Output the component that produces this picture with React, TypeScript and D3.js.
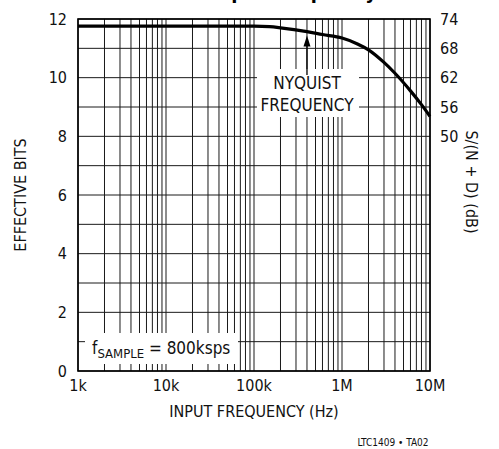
import React from 'react';
import * as d3 from 'd3';

// curve: input frequency (Hz) vs effective bits
const freqs = [1e3, 1e4, 1e5, 1.5e5, 2e5, 4e5, 6e5, 1e6, 1.5e6, 2e6, 3e6, 4e6, 6e6, 8e6, 1e7];
const bits = [11.76, 11.76, 11.76, 11.74, 11.7, 11.57, 11.47, 11.35, 11.15, 10.95, 10.52, 10.15, 9.55, 9.08, 8.68];

const leftTicks = [0, 2, 4, 6, 8, 10, 12];
const rightTicks = [12, 11, 10, 9, 8];
const rightLabels = ['74', '68', '62', '56', '50'];
const xTicks = [1e3, 1e4, 1e5, 1e6, 1e7];
const xLabels = ['1k', '10k', '100k', '1M', '10M'];

const FONT = "'Liberation Sans Narrow', 'DejaVu Sans Condensed', 'Liberation Sans', Arial, sans-serif";

export default function App() {
  const W = 499, H = 449;
  const m = { left: 78, right: 430, top: 19, bottom: 371 };

  const x = d3.scaleLog().domain([1e3, 1e7]).range([m.left, m.right]);
  const y = d3.scaleLinear().domain([0, 12]).range([m.bottom, m.top]);

  // minor + major vertical grid
  const vGrid: number[] = [];
  for (let dec = 1e3; dec < 1e7; dec *= 10) {
    for (let k = 1; k < 10; k++) vGrid.push(dec * k);
  }
  vGrid.push(1e7);
  const hGrid = d3.range(0, 13);

  const line = d3.line<number>()
    .x((_, i) => x(freqs[i]))
    .y(d => y(d))
    .curve(d3.curveMonotoneX);

  // white boxes that knock the grid out behind the notes
  const nyq = { x: 257, y: 69, w: 102, h: 48 };
  const fs = { x: 85, y: 333, w: 153, h: 31 };

  return (
    <svg width={W} height={H} style={{ position: 'absolute', left: 0, top: 0, background: '#fff' }}
      fontFamily={FONT}>
      <text x={280} y={-1} textAnchor="middle" fontSize={20} fontWeight="bold" fill="#000">
        vs Input Frequency
      </text>

      <g stroke="#1a1a1a" strokeWidth={1}>
        {vGrid.map((f, i) => (
          <line key={'v' + i} x1={x(f)} x2={x(f)} y1={m.top} y2={m.bottom} />
        ))}
        {hGrid.map(v => (
          <line key={'h' + v} x1={m.left} x2={m.right} y1={y(v)} y2={y(v)} />
        ))}
      </g>

      <rect x={nyq.x} y={nyq.y} width={nyq.w} height={nyq.h} fill="#fff" />
      <rect x={fs.x} y={fs.y} width={fs.w} height={fs.h} fill="#fff" />

      <rect x={m.left} y={m.top} width={m.right - m.left} height={m.bottom - m.top}
        fill="none" stroke="#000" strokeWidth={1.6} />

      <path d={line(bits) || ''} fill="none" stroke="#000" strokeWidth={3.2} strokeLinejoin="round" />

      {/* Nyquist arrow at fs/2 = 400k */}
      <line x1={x(4e5)} x2={x(4e5)} y1={y(11.2)} y2={nyq.y + 6} stroke="#000" strokeWidth={1.3} />
      <path d={`M${x(4e5)},${y(11.57) + 4} l-3.5,11 l7,0 z`} fill="#000" />
      <g fontSize={17} textAnchor="middle" fill="#111">
        <text x={x(4e5)} y={89}>NYQUIST</text>
        <text x={x(4e5)} y={111}>FREQUENCY</text>
      </g>

      <text x={92} y={354} fontSize={17} fill="#111">
        f<tspan fontSize={13} dy={4}>SAMPLE</tspan><tspan dy={-4}> = 800ksps</tspan>
      </text>

      <g fontSize={16} fill="#111">
        {leftTicks.map(v => (
          <text key={'l' + v} x={67} y={y(v)} dy="0.36em" textAnchor="end">{v}</text>
        ))}
        {rightTicks.map((v, i) => (
          <text key={'r' + v} x={440} y={y(v)} dy="0.36em">{rightLabels[i]}</text>
        ))}
        {xTicks.map((f, i) => (
          <text key={'x' + i} x={x(f)} y={391} textAnchor="middle">{xLabels[i]}</text>
        ))}
        <text x={254} y={417} textAnchor="middle">INPUT FREQUENCY (Hz)</text>
        <text transform="translate(26,195) rotate(-90)" textAnchor="middle">EFFECTIVE BITS</text>
        <text transform="translate(466,182) rotate(90)" textAnchor="middle">S/(N + D) (dB)</text>
      </g>
      <text x={393} y={446} fontSize={10} textAnchor="middle" fill="#111">LTC1409 • TA02</text>
    </svg>
  );
}
